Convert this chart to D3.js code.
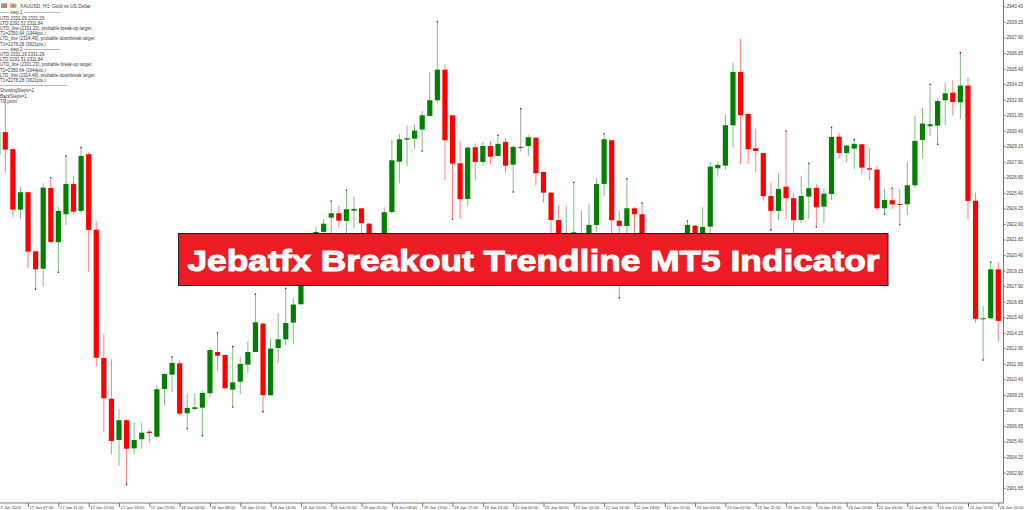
<!DOCTYPE html>
<html>
<head>
<meta charset="utf-8">
<script src="https://cdn.jsdelivr.net/npm/d3@7"></script>
<style>
  html, body { margin: 0; background: #fff; overflow: hidden; }
  text { font-family: "Liberation Sans", Arial, sans-serif; }
</style>
</head>
<body>
<div id="chart"></div>
<script>
const opens = [2928.45,2930.28,2928.91,2924.05,2925.45,2920.70,2919.30,2925.80,2921.43,2923.68,2926.12,2923.95,2928.51,2922.44,2912.12,2908.84,2905.52,2907.11,2904.85,2905.58,2906.19,2905.79,2909.62,2910.78,2911.69,2907.67,2908.02,2908.12,2909.28,2912.60,2912.36,2909.57,2910.21,2911.58,2912.60,2914.88,2909.12,2912.92,2913.62,2914.96,2916.44,2919.84,2922.09,2922.26,2923.41,2923.76,2923.14,2923.97,2924.16,2922.92,2921.21,2920.00,2923.86,2927.91,2929.68,2929.76,2930.49,2931.59,2932.85,2935.31,2931.64,2927.78,2924.91,2929.07,2927.89,2929.17,2928.37,2929.50,2927.67,2929.10,2929.17,2929.84,2927.08,2925.42,2923.22,2919.60,2920.81,2921.61,2920.81,2922.82,2926.12,2929.63,2923.16,2922.74,2924.16,2923.68,2921.61,2919.84,2919.04,2919.84,2920.81,2921.21,2922.76,2921.21,2922.68,2927.38,2927.59,2930.84,2935.13,2931.75,2928.99,2928.61,2925.15,2923.95,2925.90,2924.97,2923.22,2925.10,2925.80,2924.29,2925.31,2929.92,2928.61,2928.96,2929.31,2927.38,2927.27,2924.16,2924.81,2924.51,2924.48,2926.01,2929.66,2930.76,2930.81,2932.85,2933.46,2932.69,2934.03,2924.77,2915.26,2915.31,2919.25];
const highs = [2930.46,2933.12,2929.09,2925.90,2925.47,2920.72,2926.17,2926.62,2924.29,2928.37,2926.76,2929.04,2928.67,2923.08,2914.05,2912.01,2908.02,2907.21,2906.91,2906.91,2906.38,2909.92,2910.89,2912.20,2911.90,2909.22,2909.28,2909.49,2913.03,2914.15,2912.36,2913.03,2912.22,2913.49,2917.27,2914.93,2913.70,2915.72,2917.73,2916.95,2920.16,2921.77,2922.68,2923.28,2924.75,2924.35,2925.61,2925.10,2924.18,2922.98,2921.37,2924.24,2929.66,2930.14,2930.84,2930.94,2931.99,2935.13,2939.17,2935.75,2931.67,2929.58,2929.09,2929.39,2929.50,2929.58,2930.04,2929.82,2929.25,2932.18,2930.06,2929.90,2927.12,2925.47,2924.43,2924.35,2926.25,2924.00,2924.53,2926.60,2930.16,2929.66,2923.95,2926.54,2924.27,2924.59,2921.77,2920.16,2920.41,2921.21,2921.93,2923.14,2922.82,2924.24,2927.91,2927.91,2931.72,2935.88,2937.78,2931.75,2930.57,2928.61,2926.22,2926.98,2930.38,2925.37,2926.76,2927.78,2926.09,2925.77,2930.68,2930.24,2929.25,2929.68,2929.34,2929.01,2927.57,2925.71,2925.77,2925.71,2927.91,2931.59,2932.21,2934.14,2933.01,2934.27,2934.46,2936.68,2934.70,2925.42,2916.30,2919.82,2919.82];
const lows = [2928.45,2927.03,2923.46,2923.30,2919.36,2917.65,2917.86,2921.35,2919.01,2922.82,2923.70,2923.76,2919.06,2911.42,2906.19,2904.37,2903.45,2901.93,2904.42,2904.82,2905.31,2905.66,2908.26,2909.38,2907.53,2906.43,2907.94,2905.87,2908.96,2911.07,2909.62,2908.18,2909.22,2910.91,2912.60,2907.80,2909.10,2911.69,2913.16,2913.25,2916.40,2919.68,2921.21,2921.61,2921.21,2922.60,2921.61,2922.55,2921.61,2920.81,2919.84,2919.84,2923.70,2926.17,2927.59,2928.93,2928.77,2931.55,2932.61,2926.44,2923.28,2923.30,2924.37,2926.44,2927.59,2927.73,2928.29,2926.98,2925.47,2928.72,2928.37,2925.98,2924.65,2921.61,2920.81,2919.20,2920.41,2919.84,2920.41,2922.26,2925.15,2922.01,2916.95,2921.61,2921.61,2920.81,2919.20,2918.55,2918.55,2919.36,2920.16,2920.81,2921.21,2920.81,2922.17,2926.70,2927.24,2929.07,2927.73,2927.73,2927.06,2924.77,2922.42,2923.22,2923.33,2921.61,2922.96,2923.30,2922.66,2923.00,2924.83,2928.15,2927.86,2927.32,2926.92,2926.41,2923.97,2923.70,2924.08,2922.84,2923.62,2925.82,2928.18,2929.98,2929.31,2930.86,2931.61,2931.37,2923.28,2914.96,2911.96,2915.29,2913.43];
const closes = [2930.30,2928.88,2924.05,2925.45,2920.67,2919.25,2925.82,2921.45,2923.95,2926.12,2923.89,2928.37,2922.42,2912.14,2908.88,2905.44,2907.11,2904.82,2905.52,2906.11,2906.08,2909.60,2910.83,2911.72,2907.64,2908.10,2908.15,2909.30,2912.76,2912.30,2909.68,2910.16,2911.64,2912.60,2914.99,2909.12,2912.87,2913.62,2914.93,2916.42,2919.84,2921.61,2922.26,2922.92,2923.76,2923.16,2924.08,2924.11,2922.96,2921.21,2920.41,2923.84,2928.02,2929.71,2929.79,2930.41,2931.64,2932.85,2935.31,2929.63,2927.75,2924.89,2929.04,2927.89,2929.17,2928.31,2929.34,2927.59,2929.09,2929.10,2929.87,2926.98,2925.42,2923.22,2921.77,2921.61,2922.23,2920.41,2922.82,2926.12,2929.71,2923.20,2922.74,2924.16,2923.68,2921.61,2919.84,2919.04,2919.84,2920.81,2921.61,2922.82,2921.61,2922.66,2927.51,2927.65,2930.84,2935.13,2931.64,2928.91,2928.77,2925.13,2923.95,2925.71,2924.97,2923.20,2925.15,2925.77,2924.24,2925.34,2929.90,2928.61,2929.20,2929.34,2927.43,2927.27,2924.16,2924.83,2924.48,2924.46,2926.01,2929.58,2930.97,2930.92,2932.79,2933.41,2932.71,2934.03,2924.75,2915.26,2915.31,2919.25,2915.10];

// small dark markers sitting on the wick ends
const fractalHighs = [7,9,11,23,29,31,34,38,44,46,58,66,69,76,80,83,85,91,104,107,110,113,118,123,127,131];
const fractalLows = [5,8,17,25,27,31,35,56,60,68,82,102,108,117,119,124,130];

const priceTicks = [2940.40,2939.15,2937.90,2936.65,2935.40,2934.15,2932.90,2931.65,2930.40,2929.15,2927.90,2926.65,2925.40,2924.15,2922.90,2921.65,2920.40,2919.15,2917.90,2916.65,2915.40,2914.15,2912.90,2911.65,2910.40,2909.15,2907.90,2906.65,2905.40,2904.15,2902.90,2901.65];
const timeLabels = ["17 Jan 2024","17 Jan 07:00","17 Jan 11:00","17 Jan 15:00","17 Jan 19:00","17 Jan 23:00","18 Jan 04:00","18 Jan 08:00","18 Jan 12:00","18 Jan 16:00","18 Jan 20:00","19 Jan 01:00","19 Jan 05:00","19 Jan 09:00","19 Jan 13:00","19 Jan 17:00","19 Jan 21:00","22 Jan 02:00","22 Jan 06:00","22 Jan 10:00","22 Jan 14:00","22 Jan 18:00","22 Jan 22:00","23 Jan 03:00","23 Jan 07:00","23 Jan 11:00","23 Jan 15:00","23 Jan 19:00","23 Jan 23:00","24 Jan 04:00","24 Jan 08:00","24 Jan 12:00","24 Jan 16:00","24 Jan 20:00"];
const infoLines = [
  "\u2014\u2014 step 1 \u2014\u2014\u2014\u2014\u2014\u2014\u2014\u2014",
  "UTD  2331.29  2331.29",
  "LTD  2291.51  2311.84",
  "UTD_line (2331.23), probable break-up target:",
  "T1=2350.64 (1944pts.)",
  "LTD_line (2314.49), probable downbreak target:",
  "T1=2278.28 (3621pts.)",
  "\u2014\u2014 step 2 \u2014\u2014\u2014\u2014\u2014\u2014\u2014\u2014",
  "UTD  2331.29  2331.29",
  "LTD  2291.51  2311.84",
  "UTD_line (2331.23), probable break-up target:",
  "T1=2350.64 (1944pts.)",
  "LTD_line (2314.49), probable downbreak target:",
  "T1=2278.28 (3621pts.)",
  "\u2014\u2014\u2014\u2014\u2014\u2014\u2014\u2014\u2014\u2014\u2014\u2014\u2014\u2014\u2014",
  "ShowingSteps=2",
  "BackSteps=1",
  "TD point"
];
const symbolTitle = "XAUUSD, H1:  Gold vs US Dollar";
const bannerTitle = "Jebatfx Breakout Trendline MT5 Indicator";

const width = 1024;
const height = 510;
const plotRight = 1003.5;
const plotBottom = 503;
const red = "#ff0000";
const green = "#008000";
const textColor = "#3c3c3c";

const svg = d3
  .select("#chart")
  .append("svg")
  .attr("width", width)
  .attr("height", height)
  .style("display", "block");

svg
  .append("clipPath")
  .attr("id", "plot-clip")
  .append("rect")
  .attr("width", plotRight)
  .attr("height", plotBottom);

const x = d3.scaleLinear().domain([0, opens.length - 1]).range([-2.28, 998.28]);
const y = d3.scaleLinear().domain([2940.4, 2901.65]).range([6.4, 488.1]);

const candleColor = (i) =>
  closes[i] > opens[i] ? green : closes[i] < opens[i] ? red : "#444";

const plot = svg.append("g").attr("clip-path", "url(#plot-clip)");

plot
  .selectAll("line.wick")
  .data(d3.range(opens.length))
  .enter()
  .append("line")
  .attr("class", "wick")
  .attr("x1", (i) => x(i))
  .attr("x2", (i) => x(i))
  .attr("y1", (i) => y(highs[i]))
  .attr("y2", (i) => y(lows[i]))
  .attr("stroke", candleColor)
  .attr("stroke-opacity", 0.5)
  .attr("stroke-width", 1);

plot
  .selectAll("rect.body")
  .data(d3.range(opens.length))
  .enter()
  .append("rect")
  .attr("class", "body")
  .attr("x", (i) => x(i) - 2.6)
  .attr("width", 5.2)
  .attr("y", (i) => y(Math.max(opens[i], closes[i])))
  .attr("height", (i) =>
    Math.max(1, Math.abs(y(opens[i]) - y(closes[i])))
  )
  .attr("fill", candleColor);

plot
  .selectAll("circle.high")
  .data(fractalHighs)
  .enter()
  .append("circle")
  .attr("class", "high")
  .attr("cx", (i) => x(i))
  .attr("cy", (i) => y(highs[i]))
  .attr("r", 0.8)
  .attr("fill", "#26265c");

plot
  .selectAll("circle.low")
  .data(fractalLows)
  .enter()
  .append("circle")
  .attr("class", "low")
  .attr("cx", (i) => x(i))
  .attr("cy", (i) => y(lows[i]))
  .attr("r", 0.8)
  .attr("fill", "#26265c");

// price axis on the right
const yAxis = svg
  .append("g")
  .attr("transform", `translate(${plotRight},0)`)
  .call(
    d3
      .axisRight(y)
      .tickValues(priceTicks)
      .tickFormat(d3.format(".2f"))
      .tickSize(2)
      .tickPadding(1)
  );

yAxis.select(".domain").attr("d", `M0,0V${plotBottom}`).attr("stroke", "#777");
yAxis.selectAll(".tick line").attr("stroke", "#777");
yAxis
  .selectAll(".tick text")
  .attr("font-size", 4.6)
  .attr("font-family", "Liberation Sans")
  .attr("fill", textColor);

// time axis, one label every four bars
const xAxis = svg
  .append("g")
  .attr("transform", `translate(0,${plotBottom})`)
  .call(
    d3
      .axisBottom(x)
      .tickValues(timeLabels.map((d, i) => i * 4))
      .tickFormat((d) => timeLabels[d / 4])
      .tickSize(2)
      .tickPadding(1)
  );

xAxis.select(".domain").attr("d", `M0,0H${plotRight}`).attr("stroke", "#777");
xAxis.selectAll(".tick line").attr("stroke", "#777").attr("y2", 4);
xAxis
  .selectAll(".tick text")
  .attr("text-anchor", "start")
  .attr("x", (d) => (d === 0 ? 0 : 1))
  .attr("font-size", 4.1)
  .attr("font-family", "Liberation Sans")
  .attr("fill", textColor);

// chart header
svg.append("rect").attr("x", 1).attr("y", 3.5).attr("width", 6).attr("height", 4.5).attr("fill", "#7d9cc9");
svg.append("rect").attr("x", 4).attr("y", 3.5).attr("width", 3).attr("height", 4.5).attr("fill", "#d9795d");
svg.append("rect").attr("x", 10).attr("y", 3.5).attr("width", 6.5).attr("height", 4.5).attr("fill", "#e9a96a");
svg.append("rect").attr("x", 12).attr("y", 4.5).attr("width", 2.5).attr("height", 2.5).attr("fill", "#6f8fb8");

svg
  .append("text")
  .attr("x", 20)
  .attr("y", 7.6)
  .attr("font-size", 4.9)
  .attr("fill", textColor)
  .text(symbolTitle);

svg
  .selectAll("text.info")
  .data(infoLines)
  .enter()
  .append("text")
  .attr("class", "info")
  .attr("x", 0)
  .attr("y", (d, i) => 14.4 + i * 5.2)
  .attr("font-size", 4.5)
  .attr("fill", textColor)
  .text((d) => d);

// title banner over the chart
svg
  .append("rect")
  .attr("x", 178.5)
  .attr("y", 233.5)
  .attr("width", 709.5)
  .attr("height", 52)
  .attr("fill", "#ed1c24")
  .attr("stroke", "#2a1a1a")
  .attr("stroke-width", 1);

svg
  .append("text")
  .attr("x", 187.5)
  .attr("y", 270.5)
  .attr("font-size", 30)
  .attr("font-weight", 700)
  .attr("fill", "#fff")
  .attr("stroke", "#fff")
  .attr("stroke-width", 1)
  .attr("textLength", 692)
  .attr("lengthAdjust", "spacingAndGlyphs")
  .text(bannerTitle);
</script>
</body>
</html>
